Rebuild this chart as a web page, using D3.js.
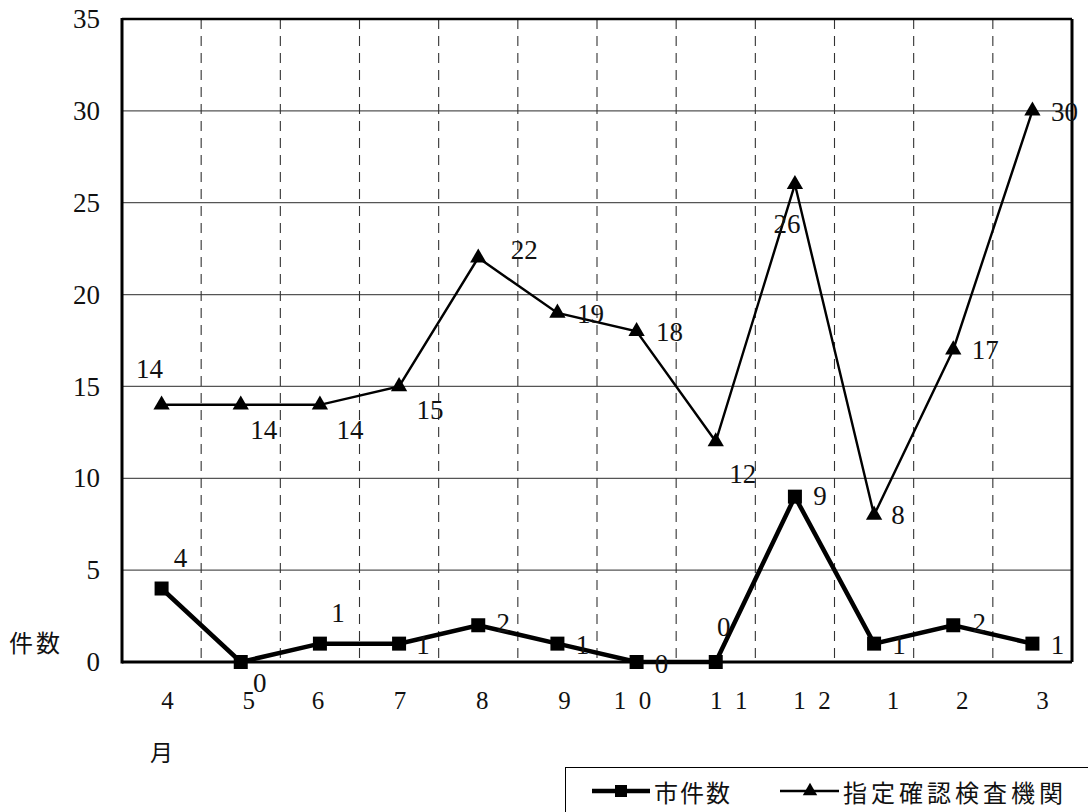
<!DOCTYPE html>
<html lang="ja">
<head>
<meta charset="utf-8">
<script src="https://cdn.jsdelivr.net/npm/d3@7/dist/d3.min.js"></script>
<style>
  html, body { margin: 0; padding: 0; background: #fff; }
  svg { display: block; }
</style>
</head>
<body>
<svg id="chart" width="1088" height="812"></svg>
<script>
// Monthly counts (April to March)
const months = ["4", "5", "6", "7", "8", "9", "10", "11", "12", "1", "2", "3"];
const cityCounts = [4, 0, 1, 1, 2, 1, 0, 0, 9, 1, 2, 1];
const agencyCounts = [14, 14, 14, 15, 22, 19, 18, 12, 26, 8, 17, 30];
const yTicks = [0, 5, 10, 15, 20, 25, 30, 35];
const seriesNames = ["市件数", "指定確認検査機関"];

// Label placement (offsets from each point, in px)
const agencyLabelOffsets = [[-12, -27], [23, 34], [30, 34], [31, 33], [46, 1], [33, 10],
                            [33, 10], [27, 41], [-8, 49], [24, 9], [32, 9], [32, 10]];
const cityLabelOffsets = [[19, -22], [19, 30], [18, -22], [24, 10], [25, 7], [25, 10],
                          [25, 11], [8, -26], [25, 8], [25, 10], [26, 7], [25, 10]];
const monthLabelShift = [6, 8, -2, 1, 4, 7, -4, 13, 17, 19, 9, 10];

const margin = { left: 122, top: 19, right: 16, bottom: 150 };
const W = 1088, H = 812;
const plotW = W - margin.left - margin.right;
const plotH = H - margin.top - margin.bottom;

const svg = d3.select("#chart");
const g = svg.append("g").attr("transform", `translate(${margin.left},${margin.top})`);

const x = d3.scaleBand().domain(months).range([0, plotW]).padding(0);
const y = d3.scaleLinear().domain([0, 35]).range([plotH, 0]);
const cx = (i) => x(months[i]) + x.bandwidth() / 2;

const serif = "'Liberation Serif', 'Times New Roman', serif";
const cjk = "'Noto Sans CJK JP', 'Noto Sans', sans-serif";

// horizontal grid lines
g.append("g").selectAll("line")
  .data(yTicks.filter(t => t > 0 && t < 35))
  .join("line")
  .attr("x1", 0).attr("x2", plotW)
  .attr("y1", d => y(d)).attr("y2", d => y(d))
  .attr("stroke", "#555").attr("stroke-width", 1.2);

// dashed separators between months
g.append("g").selectAll("line")
  .data(months.slice(1))
  .join("line")
  .attr("x1", d => x(d)).attr("x2", d => x(d))
  .attr("y1", 0).attr("y2", plotH)
  .attr("stroke", "#333").attr("stroke-width", 1.1)
  .attr("stroke-dasharray", "10,7");

// frame
g.append("line").attr("x1", 0).attr("x2", plotW).attr("y1", 0).attr("y2", 0)
  .attr("stroke", "#000").attr("stroke-width", 2.5);
g.append("line").attr("x1", plotW).attr("x2", plotW).attr("y1", 0).attr("y2", plotH)
  .attr("stroke", "#000").attr("stroke-width", 3);
g.append("line").attr("x1", 0).attr("x2", 0).attr("y1", -1).attr("y2", plotH + 1.5)
  .attr("stroke", "#000").attr("stroke-width", 3);
g.append("line").attr("x1", 0).attr("x2", plotW).attr("y1", plotH).attr("y2", plotH)
  .attr("stroke", "#000").attr("stroke-width", 3);

// y axis labels
const yAxis = g.append("g")
  .call(d3.axisLeft(y).tickValues(yTicks).tickSize(0).tickPadding(22));
yAxis.select(".domain").remove();
yAxis.selectAll("text")
  .attr("font-family", serif).attr("font-size", 27).attr("fill", "#111");

// x axis labels
const xAxis = g.append("g")
  .attr("transform", `translate(0,${plotH})`)
  .call(d3.axisBottom(x).tickSize(0).tickPadding(0)
    .tickFormat(d => d.split("").join("\u2002")));
xAxis.select(".domain").remove();
xAxis.selectAll("text")
  .attr("font-family", serif).attr("font-size", 25).attr("fill", "#111")
  .attr("dy", null)
  .attr("y", 47)
  .attr("x", (d, i) => monthLabelShift[i]);

// axis captions
svg.append("text").attr("x", 9).attr("y", 641)
  .attr("font-family", cjk).attr("font-size", 24).attr("letter-spacing", 3)
  .attr("dominant-baseline", "central").attr("fill", "#111").text("件数");
svg.append("text").attr("x", margin.left + cx(0)).attr("y", 751)
  .attr("text-anchor", "middle").attr("dominant-baseline", "central")
  .attr("font-family", cjk).attr("font-size", 23).attr("fill", "#111").text("月");

// lines
const line = (vals) => d3.line().x((d, i) => cx(i)).y(d => y(d))(vals);

g.append("path").attr("d", line(agencyCounts))
  .attr("fill", "none").attr("stroke", "#000").attr("stroke-width", 2.4)
  .attr("stroke-linejoin", "miter");
g.append("path").attr("d", line(cityCounts))
  .attr("fill", "none").attr("stroke", "#000").attr("stroke-width", 4.5)
  .attr("stroke-linejoin", "miter");

// markers
const tri = d3.symbol().type(d3.symbolTriangle).size(115);
g.append("g").selectAll("path")
  .data(agencyCounts)
  .join("path")
  .attr("d", tri)
  .attr("transform", (d, i) => `translate(${cx(i)},${y(d)})`)
  .attr("fill", "#000");

const sq = 14;
g.append("g").selectAll("rect")
  .data(cityCounts)
  .join("rect")
  .attr("x", (d, i) => cx(i) - sq / 2).attr("y", d => y(d) - sq / 2)
  .attr("width", sq).attr("height", sq)
  .attr("fill", "#000");

// value labels
g.append("g").selectAll("text")
  .data(agencyCounts)
  .join("text")
  .attr("x", (d, i) => cx(i) + agencyLabelOffsets[i][0])
  .attr("y", (d, i) => y(d) + agencyLabelOffsets[i][1])
  .attr("text-anchor", "middle")
  .attr("font-family", serif).attr("font-size", 27).attr("fill", "#111")
  .text(d => d);

g.append("g").selectAll("text")
  .data(cityCounts)
  .join("text")
  .attr("x", (d, i) => cx(i) + cityLabelOffsets[i][0])
  .attr("y", (d, i) => y(d) + cityLabelOffsets[i][1])
  .attr("text-anchor", "middle")
  .attr("font-family", serif).attr("font-size", 27).attr("fill", "#111")
  .text(d => d);

// legend
const lg = svg.append("g");
lg.append("rect").attr("x", 565.5).attr("y", 767.5).attr("width", 600).attr("height", 80)
  .attr("fill", "#fff").attr("stroke", "#000").attr("stroke-width", 1);

const legY = 791;
// 市件数
lg.append("line").attr("x1", 592).attr("x2", 650).attr("y1", legY).attr("y2", legY)
  .attr("stroke", "#000").attr("stroke-width", 4.5);
lg.append("rect").attr("x", 621 - 6).attr("y", legY - 6).attr("width", 12).attr("height", 12)
  .attr("fill", "#000");
lg.append("text").attr("x", 654).attr("y", legY)
  .attr("dominant-baseline", "central")
  .attr("font-family", cjk).attr("font-size", 24).attr("letter-spacing", 2).attr("fill", "#111")
  .text(seriesNames[0]);
// 指定確認検査機関
lg.append("line").attr("x1", 780).attr("x2", 839).attr("y1", legY).attr("y2", legY)
  .attr("stroke", "#000").attr("stroke-width", 2.4);
lg.append("path").attr("d", d3.symbol().type(d3.symbolTriangle).size(90))
  .attr("transform", `translate(810,${legY})`).attr("fill", "#000");
lg.append("text").attr("x", 843).attr("y", legY)
  .attr("dominant-baseline", "central")
  .attr("font-family", cjk).attr("font-size", 24).attr("letter-spacing", 4).attr("fill", "#111")
  .text(seriesNames[1]);
</script>
</body>
</html>
